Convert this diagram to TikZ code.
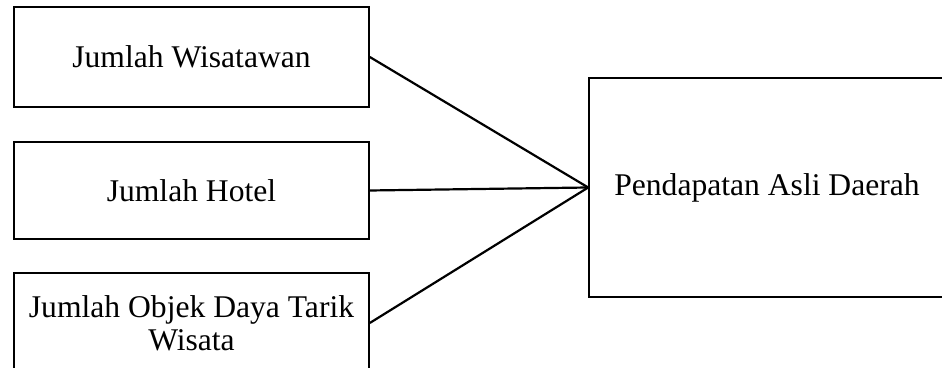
\documentclass[tikz,border=0pt]{standalone}
\usepackage{fontspec}
\setmainfont{Liberation Serif}
\begin{document}
\begin{tikzpicture}[x=0.5pt,y=0.5pt,
  kotak/.style={draw,line width=0.8pt,minimum width=177.5pt,inner sep=2pt,align=center,font=\fontsize{15.8}{16.5}\selectfont},
  garis/.style={line width=1.1pt}]
\useasboundingbox (0,0) rectangle (942,368);

\node[kotak,minimum height=50pt] (wisatawan) at (191.5,311) {Jumlah Wisatawan};
\node[kotak,minimum height=48.5pt] (hotel) at (191.5,177.5) {Jumlah Hotel};
\node[kotak,minimum height=50pt] (objek) at (191.5,45) {Jumlah Objek Daya Tarik\\Wisata};
\node[kotak,minimum width=178pt,minimum height=109.5pt] (pad) at (767,180.5) {Pendapatan Asli Daerah};

\draw[garis] (wisatawan.east) -- (pad.west);
\draw[garis] (hotel.east) -- (pad.west);
\draw[garis] (objek.east) -- (pad.west);
\end{tikzpicture}
\end{document}
